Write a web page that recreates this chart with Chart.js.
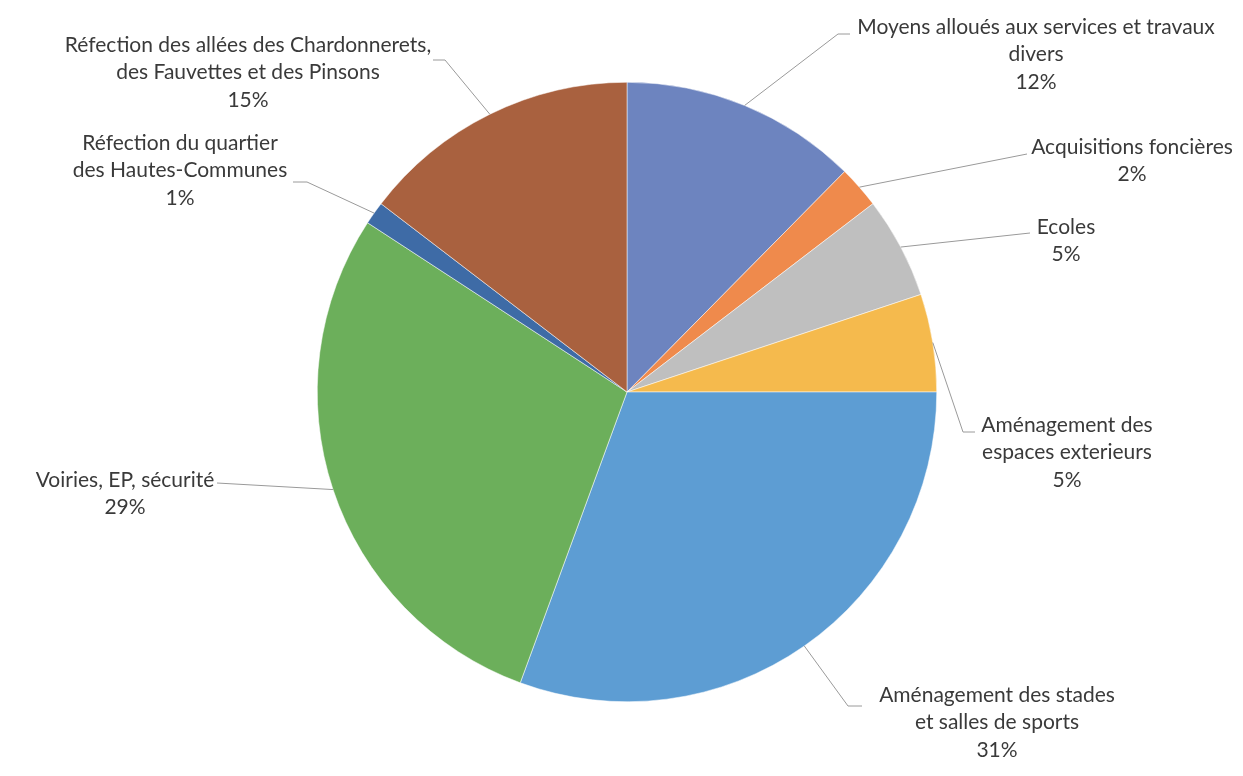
<!DOCTYPE html>
<html>
<head>
<meta charset="utf-8">
<script src="https://cdn.jsdelivr.net/npm/chart.js@4"></script>
<style>
    html, body { margin: 0; padding: 0; background: #fff; }
    .main { width: 1243px; height: 776px; position: relative; }
</style>
</head>
<body>
<div class="main">
    <canvas id="budget" width="1243" height="776"></canvas>
</div>
<script>
// donnees (ordre horaire depuis midi)
const categories = [
    "Moyens alloués aux services et travaux divers",
    "Acquisitions foncières",
    "Ecoles",
    "Aménagement des espaces exterieurs",
    "Aménagement des stades et salles de sports",
    "Voiries, EP, sécurité",
    "Réfection du quartier des Hautes-Communes",
    "Réfection des allées des Chardonnerets, des Fauvettes et des Pinsons"
];
const values = [12.4, 2.2, 5.3, 5.1, 30.6, 28.6, 1.2, 14.6];
const labelLines = [
    ["Moyens alloués aux services et travaux", "divers"],
    ["Acquisitions foncières"],
    ["Ecoles"],
    ["Aménagement des", "espaces exterieurs"],
    ["Aménagement des stades", "et salles de sports"],
    ["Voiries, EP, sécurité"],
    ["Réfection du quartier", "des Hautes-Communes"],
    ["Réfection des allées des Chardonnerets,", "des Fauvettes et des Pinsons"]
];

const colores = ["#6d84bf", "#ef8a4c", "#bfbfbf", "#f5ba4d", "#5d9dd3", "#6caf5b", "#3e6ba6", "#a9613f"];

// position des etiquettes par rapport au centre du camembert (centre du texte, 1re ligne)
const textPos = [[409, -365], [505, -245], [439, -165], [440, 33], [370, 303], [-502, 88], [-447, -249], [-379, -347]];
// points de la ligne de rappel apres le bord de la part
const leaderPts = [
    [[211, -358], [223, -358]],
    [[400, -238]],
    [[403, -159]],
    [[336, 40], [348, 40]],
    [[221, 314], [235, 314]],
    [[-410, 91]],
    [[-320, -210], [-334, -210]],
    [[-182, -332], [-194, -332]]
];

const lineHeight = 27.5;

const etiquettes = {
    id: "etiquettes",
    afterDraw(chart) {
        const ctx = chart.ctx;
        const arcs = chart.getDatasetMeta(0).data;
        const total = values.reduce((a, b) => a + b, 0);
        ctx.save();
        arcs.forEach((arc, i) => {
            const mid = (arc.startAngle + arc.endAngle) / 2;
            const sx = arc.x + Math.cos(mid) * arc.outerRadius;
            const sy = arc.y + Math.sin(mid) * arc.outerRadius;

            ctx.strokeStyle = "#9a9a9a";
            ctx.lineWidth = 1;
            ctx.beginPath();
            ctx.moveTo(sx, sy);
            leaderPts[i].forEach(p => ctx.lineTo(arc.x + p[0], arc.y + p[1]));
            ctx.stroke();

            const lines = labelLines[i].concat([Math.round(values[i] / total * 100) + "%"]);
            ctx.fillStyle = "#3a3a3a";
            ctx.font = "21px Lato";
            ctx.textAlign = "center";
            ctx.textBaseline = "middle";
            lines.forEach((t, k) => {
                ctx.fillText(t, arc.x + textPos[i][0], arc.y + textPos[i][1] + k * lineHeight);
            });
        });
        ctx.restore();
    }
};

const ctx = document.getElementById("budget");

const myChart = new Chart(ctx, {
    type: "pie",
    data: {
        labels: categories,
        datasets: [
            {
                data: values,
                backgroundColor: colores,
                borderColor: "#ffffff",
                borderWidth: 0.5,
            },
        ],
    },
    options: {
        responsive: false,
        animation: false,
        layout: {
            padding: { left: 317, right: 306, top: 82, bottom: 74 }
        },
        plugins: {
            legend: { display: false },
            tooltip: { enabled: false }
        }
    },
    plugins: [etiquettes]
});
</script>
</body>
</html>
